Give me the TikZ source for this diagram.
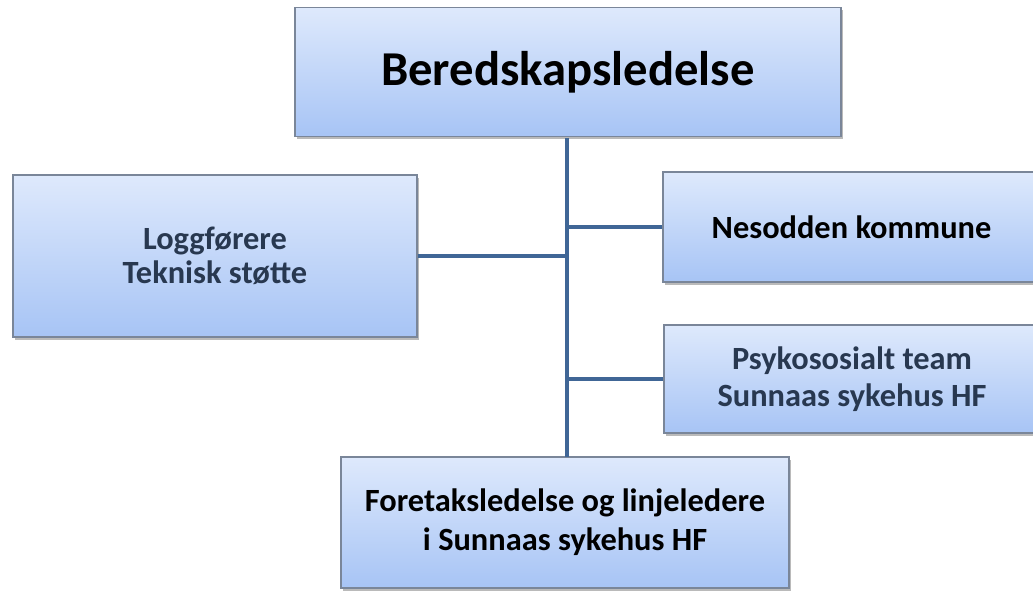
\documentclass[tikz,border=0pt]{standalone}
\usepackage{fontspec}
\setmainfont{Carlito}
\usetikzlibrary{shadows}
\definecolor{boxtop}{RGB}{222,233,252}
\definecolor{boxbot}{RGB}{167,196,245}
\definecolor{boxline}{RGB}{122,134,153}
\definecolor{trunk}{RGB}{64,102,150}
\definecolor{slate}{RGB}{40,56,80}
\begin{document}
\begin{tikzpicture}[x=0.75pt,y=-0.75pt,
  orgbox/.style={draw=boxline, line width=0.8pt, top color=boxtop, bottom color=boxbot,
    drop shadow={shadow xshift=1.2pt, shadow yshift=-2pt, fill=black!45, opacity=.6},
    align=center, inner sep=0pt, font=\bfseries\fontsize{24.3}{25.5}\selectfont},
  orgline/.style={draw=trunk, line width=3pt}]
\useasboundingbox (0,0) rectangle (1033,591);
\node[orgbox, minimum width=409.5pt, minimum height=96.75pt, font=\bfseries\fontsize{36.5}{40}\selectfont] (bered) at (568,72) {Beredskapsledelse};
\node[orgbox, minimum width=303pt, minimum height=121.5pt, text=slate] (logg) at (215,256) {Loggførere\\Teknisk støtte};
\node[orgbox, minimum width=282.75pt, minimum height=82.5pt] (nesodden) at (851.5,227) {Nesodden kommune};
\node[orgbox, minimum width=282pt, minimum height=81pt, text=slate] (psyko) at (852,379) {Psykososialt team\\[2pt]Sunnaas sykehus HF};
\node[orgbox, minimum width=336pt, minimum height=98.25pt] (foretak) at (565,522.5) {Foretaksledelse og linjeledere\\[4pt]i Sunnaas sykehus HF};
\coordinate (trunktop) at (567,138);
\coordinate (trunkbot) at (567,457);
\draw[orgline] (trunktop) -- (trunkbot);
\draw[orgline] (logg.east) -- (logg.east -| trunktop);
\draw[orgline] (nesodden.west) -- (nesodden.west -| trunktop);
\draw[orgline] (psyko.west) -- (psyko.west -| trunktop);
\end{tikzpicture}
\end{document}
